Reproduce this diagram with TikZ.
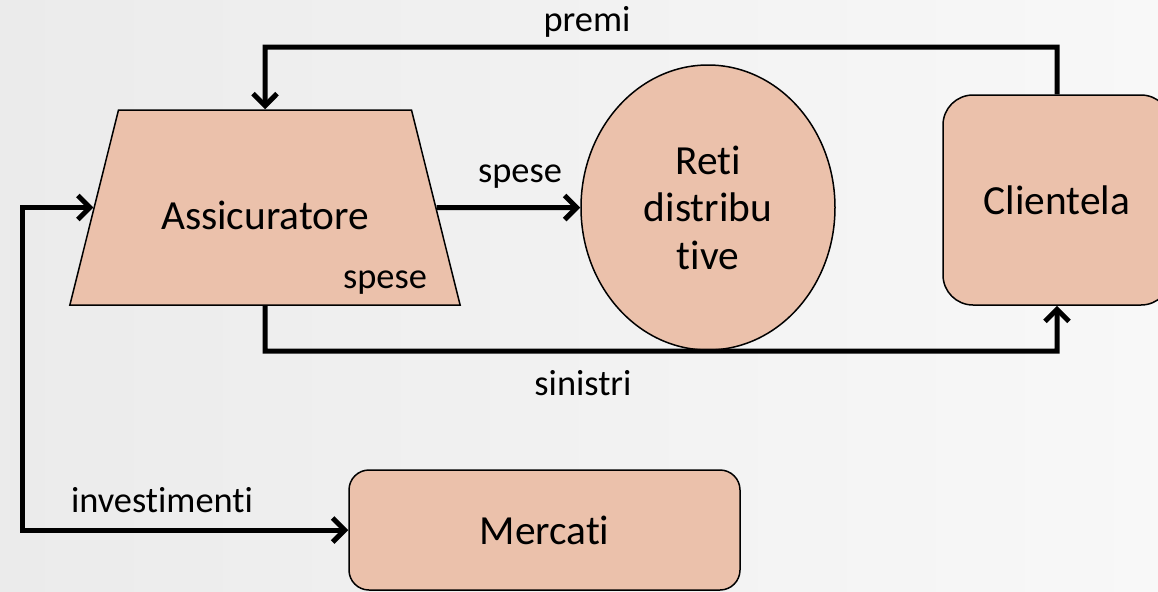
\documentclass[tikz,border=0pt]{standalone}
\usepackage{fontspec}
\setmainfont{Carlito}[Ligatures=NoCommon]
\usetikzlibrary{shapes.geometric,arrows.meta}
\definecolor{salmone}{HTML}{EBC1AB}
\definecolor{sfondoA}{HTML}{EBEBEB}
\definecolor{sfondoB}{HTML}{F8F8F8}
\tikzset{
  >={Straight Barb[length=6pt,width=12pt]},
  blocco/.style={draw, fill=salmone, line width=0.75pt, align=center,
    font=\fontsize{20.7}{23.8}\selectfont},
  flusso/.style={line width=2.5pt},
  etichetta/.style={inner sep=0pt, font=\fontsize{18.2}{22}\selectfont},
}
\begin{document}
\begin{tikzpicture}[x=0.5pt,y=-0.5pt]
\shade[left color=sfondoA, right color=sfondoB] (0,0) rectangle (1158,591);
\useasboundingbox (0,0) rectangle (1158,591);

\node[blocco, trapezium, trapezium angle=76, text width=106pt,
  inner xsep=20.25pt, inner ysep=37.75pt, text height=22pt,
  text depth=0pt] (ass) at (265,207.5) {Assicuratore};
\node[blocco, ellipse, minimum width=127pt, minimum height=142.5pt,
  inner sep=0pt] (reti) at (708,207.5) {Reti\\distribu\\tive};
\node[blocco, rounded corners=15pt, minimum width=114pt,
  minimum height=105pt] (cli) at (1057,200) {Clientela};
\node[blocco, rounded corners=10pt, minimum width=195.5pt,
  minimum height=60pt] (merc) at (544.5,530) {Mercati};

\coordinate (alto) at (265,47);
\coordinate (basso) at (265,351);
\coordinate (sx) at (22,0);

\draw[flusso, ->] (cli.north) |- (alto) -- (ass.north);
\draw[flusso, ->] (ass.south) -- (basso) -| (cli.south);
\draw[flusso, ->] (ass.east) -- (reti.west);
\draw[flusso, <->] (ass.west) -- (ass.west -| sx) |- (merc.west);

\node[etichetta] (lpremi) at (587,22) {premi};
\node[etichetta] (lspese) at (520,177) {spese};
\node[etichetta] (lspesein) at (385,283) {spese};
\node[etichetta] (lsinistri) at (583,383) {sinistri};
\node[etichetta] (linvest) at (162,500) {investimenti};
\end{tikzpicture}
\end{document}
